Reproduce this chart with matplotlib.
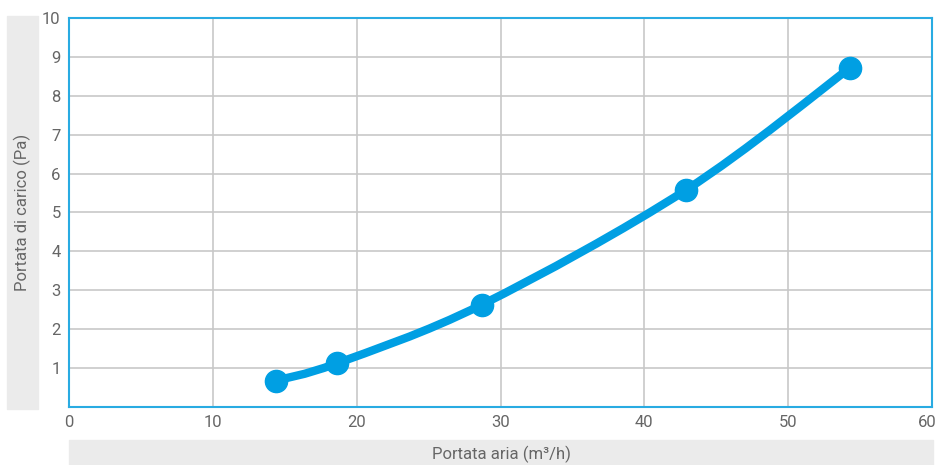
import matplotlib
matplotlib.use("Agg")
import matplotlib.pyplot as plt
from matplotlib.path import Path
from matplotlib.patches import PathPatch, Rectangle
from matplotlib.transforms import ScaledTranslation

# data
portata_aria = [14.4, 18.6, 28.7, 42.9, 54.3]
perdita_carico = [0.68, 1.12, 2.63, 5.58, 8.72]
x_ticks = [0, 10, 20, 30, 40, 50, 60]
y_ticks = [1, 2, 3, 4, 5, 6, 7, 8, 9, 10]

BLUE = "#009fe3"
SPINE = "#29abe2"
GRID = "#c8c8c8"
TXT = "#666666"
BOX = "#ebebeb"

plt.rcParams["font.family"] = ["Roboto", "DejaVu Sans"]

W, H = 939, 465
fig = plt.figure(figsize=(W / 100, H / 100), dpi=100)
ax = fig.add_axes([69 / W, 1 - 407 / H, (932 - 69) / W, (407 - 18) / H])

# grey label boxes behind the axis titles
fig.patches.append(Rectangle((7 / W, 1 - 409 / H), 31 / W, 393 / H,
                             transform=fig.transFigure, color=BOX, zorder=0))
fig.patches.append(Rectangle((69 / W, 0), (933 - 69) / W, 25 / H,
                             transform=fig.transFigure, color=BOX, zorder=0))

ax.set_xlim(0, 60)
ax.set_ylim(0, 10)
ax.set_xticks(x_ticks)
ax.set_yticks(y_ticks)
ax.grid(True, color=GRID, linewidth=1.2)
ax.set_axisbelow(True)
ax.tick_params(length=0, labelsize=12, labelcolor=TXT, pad=6)
# keep the last x label inside the figure
last = ax.get_xticklabels()[-1]
last.set_transform(last.get_transform() + ScaledTranslation(-5 / 100, 0, fig.dpi_scale_trans))
for s in ax.spines.values():
    s.set_color(SPINE)
    s.set_linewidth(1.5)

# smooth curve through the points (Catmull-Rom as cubic Bezier)
pts = list(zip(portata_aria, perdita_carico))
verts = [pts[0]]
codes = [Path.MOVETO]
for i in range(len(pts) - 1):
    p0 = pts[i - 1] if i > 0 else pts[i]
    p1, p2 = pts[i], pts[i + 1]
    p3 = pts[i + 2] if i + 2 < len(pts) else pts[i + 1]
    c1 = (p1[0] + (p2[0] - p0[0]) / 6, p1[1] + (p2[1] - p0[1]) / 6)
    c2 = (p2[0] - (p3[0] - p1[0]) / 6, p2[1] - (p3[1] - p1[1]) / 6)
    verts += [c1, c2, p2]
    codes += [Path.CURVE4] * 3
ax.add_patch(PathPatch(Path(verts, codes), facecolor="none", edgecolor=BLUE,
                       linewidth=6, capstyle="round", zorder=3))
ax.plot(portata_aria, perdita_carico, "o", color=BLUE, markersize=16, zorder=4)

fig.text(22 / W, 1 - 212 / H, "Portata di carico (Pa)", rotation=90,
         ha="center", va="center", fontsize=12, color=TXT)
fig.text(501 / W, 1 - 454 / H, "Portata aria (m³/h)", ha="center", va="center",
         fontsize=12, color=TXT)

fig.savefig("out.png", dpi=100)
